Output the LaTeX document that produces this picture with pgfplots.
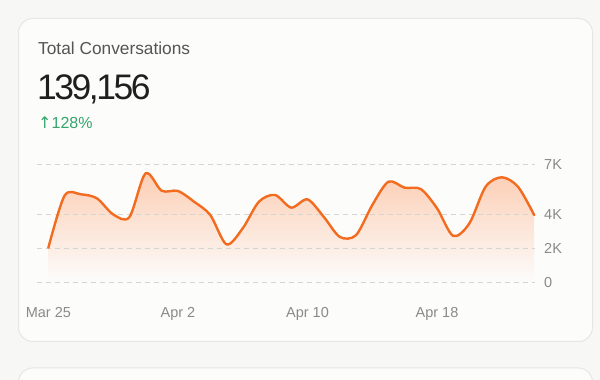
\documentclass[border=0pt]{standalone}
\usepackage{fontspec}
\setmainfont{Liberation Sans}
\newfontfamily\sym{DejaVu Sans}
\newfontfamily\numfont[LetterSpace=-7]{Liberation Sans}
\usepackage{pgfplots}
\usepackage{pgfplotstable}
\pgfplotsset{compat=1.18}
\definecolor{pagebg}{HTML}{F7F7F5}
\definecolor{cardbg}{HTML}{FCFCFB}
\definecolor{cardborder}{HTML}{E6E6E4}
\definecolor{titlegray}{HTML}{555555}
\definecolor{numdark}{HTML}{1F1F1F}
\definecolor{upgreen}{HTML}{35A56B}
\definecolor{linec}{HTML}{F36B1F}
\definecolor{fillc}{HTML}{FCCDB3}
\definecolor{gridc}{HTML}{D4D4D2}
\definecolor{tickc}{HTML}{8A8A88}
\pgfplotstableread{
x y
0 2.05
1 5.14
2 5.22
3 4.98
4 4.03
5 3.86
6 6.46
7 5.43
8 5.42
9 4.78
10 3.99
11 2.25
12 3.2
13 4.78
14 5.18
15 4.43
16 4.92
17 3.89
18 2.69
19 2.8
20 4.58
21 5.97
22 5.61
23 5.53
24 4.39
25 2.75
26 3.5
27 5.67
28 6.23
29 5.67
30 3.99
}\convdata
\pgfplotsset{chartbase/.style={
  at={(36.7pt,97.7pt)}, anchor=south west,
  scale only axis, width=498.3pt, height=118pt,
  xmin=-0.72, xmax=30.05, ymin=0, ymax=7,
  axis line style={draw=none},
  major tick length=0pt,
  tick style={draw=none},
  clip=false,
}}
\begin{document}
\begin{tikzpicture}[x=1pt,y=1pt]
\path[use as bounding box] (0,0) rectangle (600,380);
\clip (0,0) rectangle (600,380);
\fill[pagebg] (0,0) rectangle (600,380);
\draw[cardborder, fill=cardbg, line width=1pt, rounded corners=14pt] (18.5,38.5) rectangle (592.5,361.5);
\draw[cardborder, fill=cardbg, line width=1pt, rounded corners=14pt] (18.5,-40) rectangle (592.5,12);
\node[anchor=base west, inner sep=0pt, text=titlegray, font=\fontsize{17.3}{20}\selectfont] at (38,325) {Total Conversations};
\node[anchor=base west, inner sep=0pt, text=numdark, font=\fontsize{35.5}{42}\selectfont\numfont] at (37,280.7) {139,156};
\node[anchor=base west, inner sep=0pt, text=upgreen, font=\fontsize{16}{18}\selectfont] at (38,251.7) {{\sym ↑}128\%};
\begin{axis}[chartbase, xtick=\empty, ytick=\empty]
\addplot[draw=none, top color=fillc, bottom color=cardbg, smooth, tension=0.5] table {\convdata} \closedcycle;
\end{axis}
\begin{axis}[
  chartbase,
  ymajorgrids,
  grid style={gridc, dash pattern=on 5pt off 4pt, line width=1pt},
  xtick={0,8,16,24}, xticklabels={Mar 25,Apr 2,Apr 10,Apr 18},
  ytick={0,2,4,7}, yticklabels={0,2K,4K,7K},
  yticklabel pos=right,
  /pgf/number format/assume math mode=true,
  yticklabel style={anchor=west, inner sep=0pt, xshift=9pt, text=tickc, font=\fontsize{14.5}{16}\selectfont},
  xticklabel style={anchor=base, inner sep=0pt, yshift=-35pt, text=tickc, font=\fontsize{14.5}{16}\selectfont},
]
\addplot[linec, line width=2.4pt, smooth, tension=0.5, line join=round, line cap=round] table {\convdata};
\end{axis}
\end{tikzpicture}
\end{document}
